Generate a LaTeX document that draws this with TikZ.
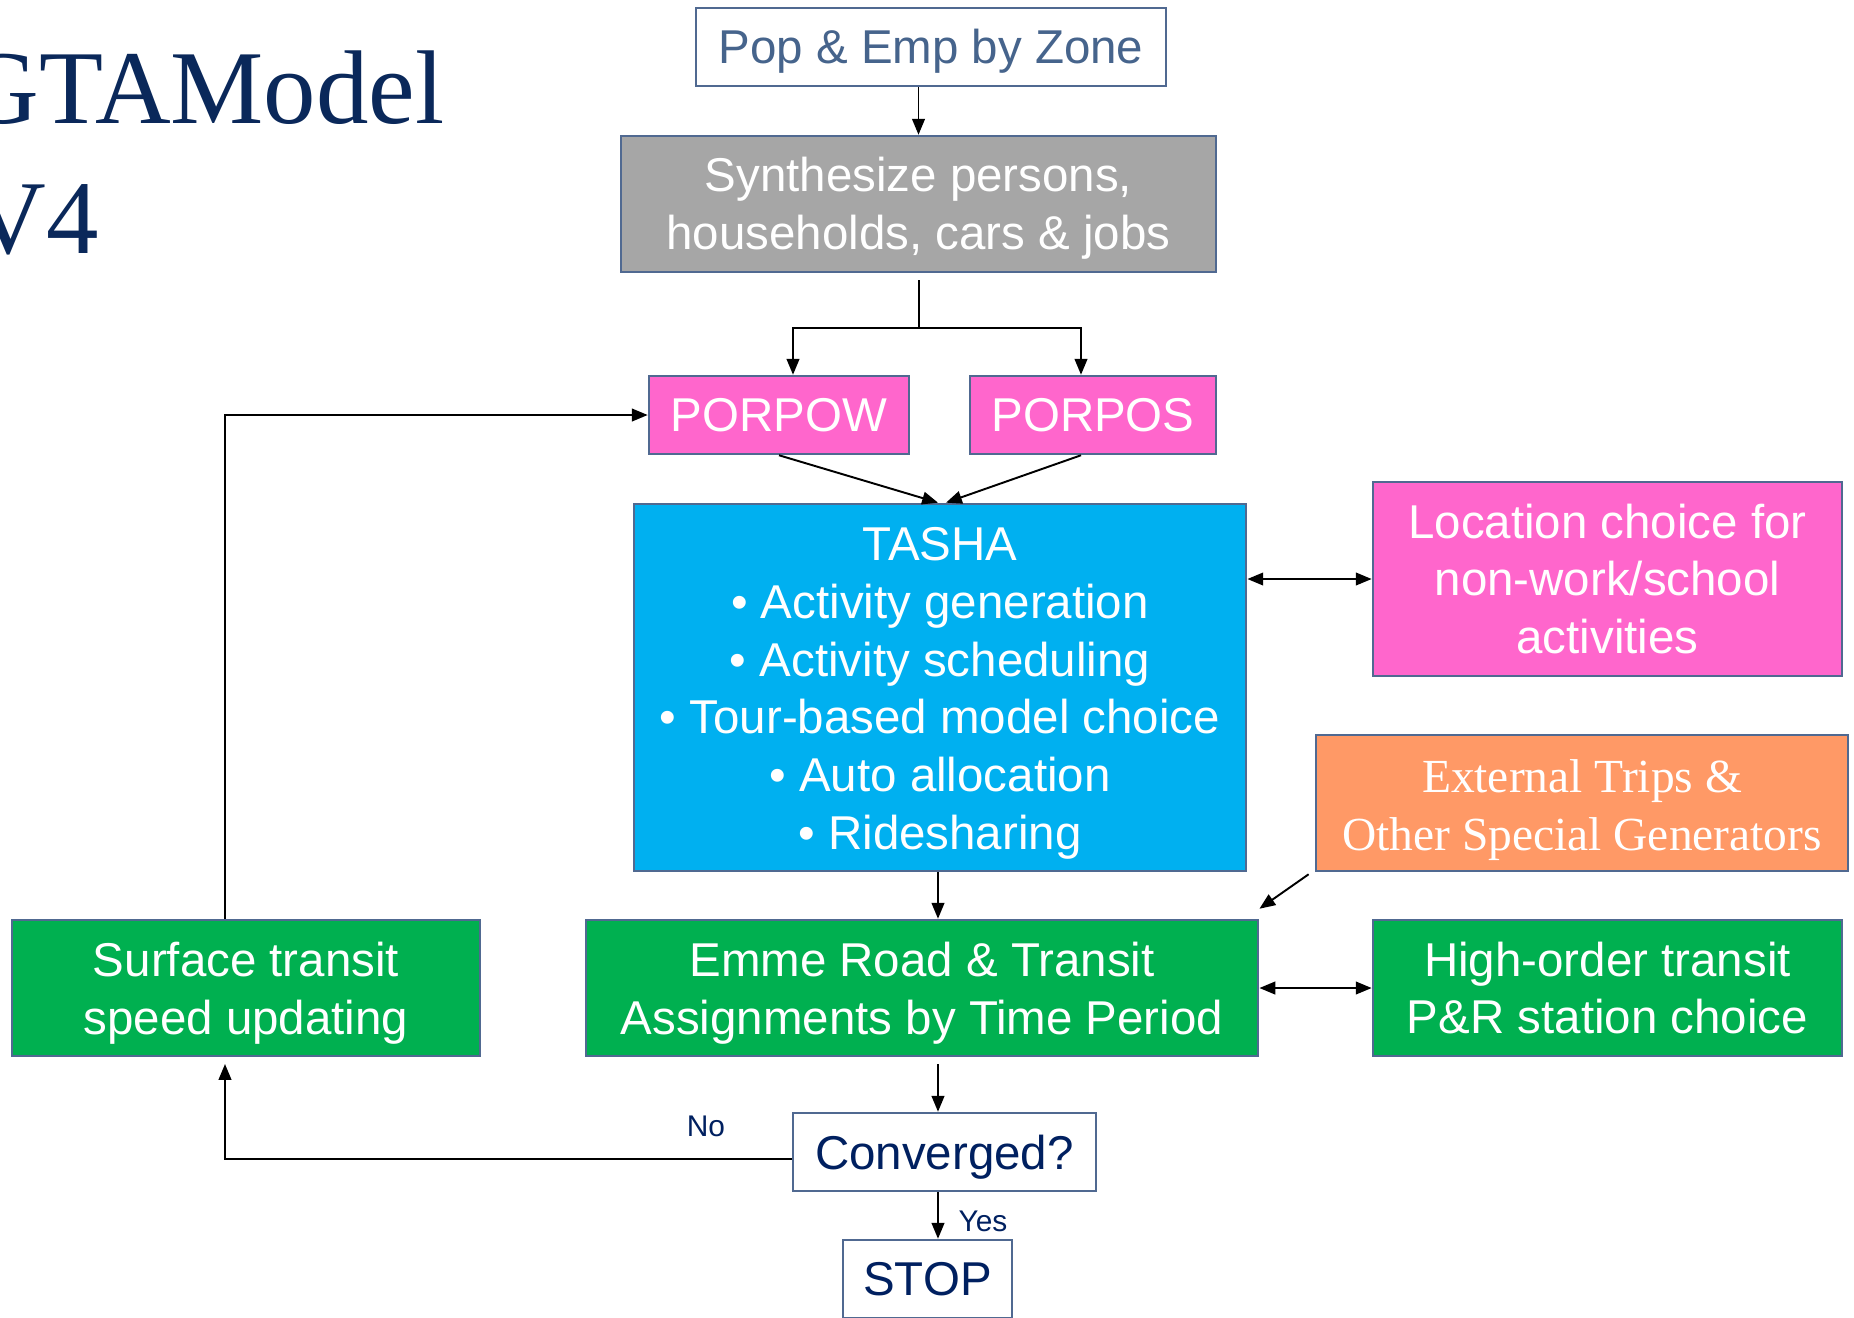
\documentclass[tikz,border=0pt]{standalone}
\usepackage{fontspec}
\setmainfont{Liberation Sans}
\newfontfamily\timesfont{Liberation Serif}
\usetikzlibrary{arrows.meta}
\definecolor{titlenavy}{RGB}{10,40,90}
\definecolor{edgeblue}{RGB}{80,105,145}
\definecolor{popblue}{RGB}{70,100,140}
\definecolor{textnavy}{RGB}{0,32,96}
\definecolor{synthgray}{RGB}{166,166,166}
\definecolor{porpink}{RGB}{255,102,204}
\definecolor{tashablue}{RGB}{0,176,240}
\definecolor{extorange}{RGB}{255,153,102}
\definecolor{trgreen}{RGB}{0,176,80}
\newcommand{\boxfont}{\fontsize{13.5}{16.4}\selectfont}
\newcommand{\lblfont}{\fontsize{8.5}{10}\selectfont}
\newcommand{\dropstrut}[1]{\rule{0pt}{#1}}% pushes a box's text down a little
\tikzset{box/.style={draw=edgeblue, line width=0.7pt, align=center, inner sep=0pt, font=\boxfont},
    plainbox/.style={box, fill=white, text=textnavy},
    fillbox/.style={box, text=white},
    arr/.style={-{Triangle[length=4.5pt,width=3.6pt]}, line width=0.55pt},
    dblarr/.style={{Triangle[length=4.5pt,width=3.6pt]}-{Triangle[length=4.5pt,width=3.6pt]}, line width=0.55pt},
    lbl/.style={text=textnavy, inner sep=0pt, font=\lblfont},
    titletext/.style={text=titlenavy, inner sep=0pt, anchor=base west, font=\timesfont\fontsize{29.8}{34}\selectfont},
    }
\begin{document}
\begin{tikzpicture}[x=0.01cm, y=-0.01cm]
\useasboundingbox (0,0) rectangle (1854,1317);
\node[titletext] (titleone) at (-37,123) {GTAModel};
\node[titletext] (titletwo) at (-30,253) {V4};
% main column
\node[plainbox, text=popblue, minimum width=4.70cm, minimum height=0.78cm] (pop) at (931,47) {\dropstrut{0.43cm}Pop \& Emp by Zone};
\node[fillbox, fill=synthgray, minimum width=5.95cm, minimum height=1.36cm] (synth) at (918.5,204) {\dropstrut{0.43cm}Synthesize persons,\\households, cars \& jobs};
\node[fillbox, fill=porpink, minimum width=2.60cm, minimum height=0.78cm] (porpow) at (779,415) {PORPOW};
\node[fillbox, fill=porpink, minimum width=2.46cm, minimum height=0.78cm] (porpos) at (1093,415) {PORPOS};
\node[fillbox, fill=tashablue, minimum width=6.12cm, minimum height=3.67cm] (tasha) at (940,687.5) {\dropstrut{0.45cm}TASHA\\\textbullet{} Activity generation\\\textbullet{} Activity scheduling\\\textbullet{} Tour-based model choice\\\textbullet{} Auto allocation\\\textbullet{} Ridesharing};
\node[fillbox, fill=trgreen, minimum width=6.72cm, minimum height=1.36cm] (emme) at (922,988) {\dropstrut{0.45cm}Emme Road \& Transit\\Assignments by Time Period};
\node[plainbox, minimum width=3.03cm, minimum height=0.78cm] (converged) at (944.5,1152) {\dropstrut{0.45cm}Converged?};
\node[plainbox, minimum width=1.69cm, minimum height=0.78cm] (stop) at (927.5,1279) {STOP};
% side boxes
\node[fillbox, fill=porpink, minimum width=4.69cm, minimum height=1.94cm] (locchoice) at (1607.5,579) {Location choice for\\non-work/school\\activities};
\node[fillbox, fill=extorange, minimum width=5.32cm, minimum height=1.36cm, font=\timesfont\boxfont] (external) at (1582,803) {\dropstrut{0.47cm}External Trips \&\\Other Special Generators};
\node[fillbox, fill=trgreen, minimum width=4.69cm, minimum height=1.36cm] (highorder) at (1607.5,988) {High-order transit\\P\&R station choice};
\node[fillbox, fill=trgreen, minimum width=4.68cm, minimum height=1.36cm] (surface) at (246,988) {\dropstrut{0.45cm}Surface transit\\speed updating};
\node[lbl] (nolbl) at (706,1126) {No};
\node[lbl] (yeslbl) at (983,1221) {Yes};
% connectors
\coordinate (spine) at (938,0);
\coordinate (loopx) at (225,0);
\coordinate (synthout) at (919,280);
\coordinate (fork) at (919,328);
\coordinate (forkl) at (793,328);
\coordinate (forkr) at (1081,328);
\coordinate (emmeout) at (938,1064);
\coordinate (surfin) at (225,1064);
\draw[arr] (synth.north |- pop.south) -- (synth.north);
\draw (synthout) -- (fork);
\draw[arr] (fork) -| (forkl |- porpow.north);
\draw[arr] (fork) -| (forkr |- porpos.north);
\draw[arr] (porpow.south) -- ([xshift=-0.02cm]tasha.north);
\draw[arr] (porpos.south -| forkr) -- ([xshift=0.06cm]tasha.north);
\draw[dblarr] (tasha.east |- locchoice.west) -- (locchoice.west);
\draw[arr] (tasha.south -| spine) -- (emme.north -| spine);
\draw[arr] ([shift={(-0.06cm,-0.02cm)}]external.south west) -- ([yshift=0.10cm]emme.north east);
\draw[dblarr] (emme.east) -- (highorder.west);
\draw[arr] (emmeout) -- (converged.north -| spine);
\draw[arr] (converged.south -| spine) -- (stop.north -| spine);
\draw[arr] ([yshift=-0.07cm]converged.west) -| (surfin);
\draw[arr] (surface.north -| loopx) |- (porpow.west);
\end{tikzpicture}
\end{document}
